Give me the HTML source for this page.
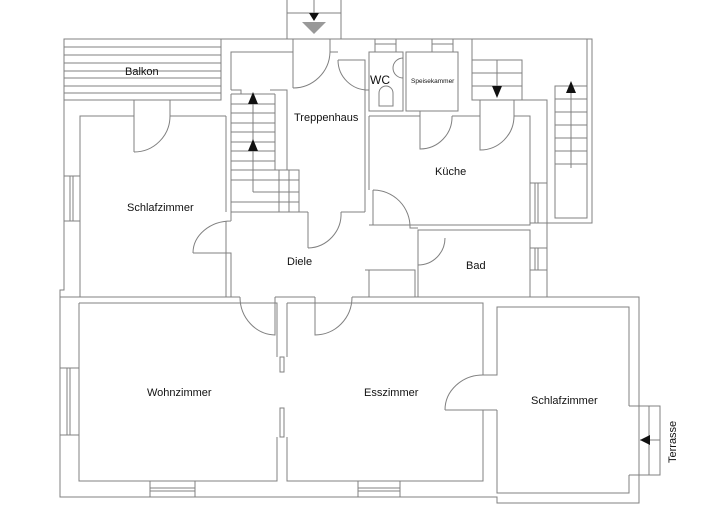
<!DOCTYPE html>
<html><head><meta charset="utf-8"><style>
html,body{margin:0;padding:0;background:#fff;}
svg{display:block;}
text{font-family:"Liberation Sans",sans-serif;font-size:11px;fill:#111;}
</style></head><body>
<svg width="720" height="530" viewBox="0 0 720 530" xmlns="http://www.w3.org/2000/svg">
<g fill="none" stroke="#808080" stroke-width="1">
<!-- entrance stairs -->
<path d="M287,0 V39 M341,0 V39 M287,13 H341 M314,0 V13"/>
<!-- Balkon -->
<rect x="64" y="39" width="157" height="61"/>
<path d="M64,47H221M64,55H221M64,63H221M64,71H221M64,78H221M64,86H221M64,93H221"/>
<!-- outer wall -->
<path d="M221,39 H592 V223 H547 V297 H639 V503 H497 V497 H60 V290 H64 V100"/>
<path d="M587,39 V218 H555 V86 H587"/>
<path d="M555,99H587M555,112H587M555,125H587M555,138H587M555,151H587M555,164H587"/>
<!-- top stairs right -->
<path d="M472,39 V100 H522 V60 H472 M472,73H522 M472,86H522 M497,60V93"/>
<path d="M522,100 H547 V297"/>
<!-- Schlafzimmer top-left -->
<path d="M134,116 H80 V297 H226 V221 M226,116 H170 M226,116 V212"/>
<path d="M134,100 V152 M134,152 A36,36 0 0 0 170,116 M170,100 V116"/>
<rect x="64" y="176" width="16" height="45"/><path d="M70,176V221M73,176V221"/>
<!-- Treppenhaus block -->
<path d="M231,90 V52 H293 M231,90 H241 V94 M231,94 V212 M231,212 H308 M270,90 H287 V170 H299 V212"/>
<path d="M275,94 V170 H279 V212 M289,170 V212 M279,170 H299 M231,94 H275"/>
<path d="M231,104H275M231,113H275M231,123H275M231,132H275M231,142H275M231,151H275M231,161H275M231,170H275M253,192H299M231,180H299M231,202H299"/>
<path d="M253,98 V192"/>
<path d="M293,39 V88 M293,88 A37,37 0 0 0 330,52 M330,39V52 M330,52 H338"/>
<path d="M338,60 H365 V212 M338,60 A30,30 0 0 0 369,90"/>
<path d="M365,212 H341 M308,212 V248 M308,248 A34,34 0 0 0 341,212"/>
<!-- WC / Speisekammer -->
<rect x="369" y="52" width="34" height="59"/>
<rect x="406" y="52" width="52" height="59"/>
<rect x="375" y="39" width="21" height="13"/><path d="M375,44H396"/>
<rect x="432" y="39" width="21" height="13"/><path d="M432,44H453"/>
<path d="M403,58 A9,9 0 1 0 403,78 Z"/>
<path d="M379,93 A7,7 0 0 1 393,93 V106 H379 Z"/>
<!-- Kueche -->
<path d="M369,116 H420 M452,116 H480 M514,116 H530 V225 H369 M369,116 V190"/>
<path d="M420,111 V149 A32,32 0 0 0 452,116"/>
<path d="M480,100 V150 A34,34 0 0 0 514,116 M514,100 V116"/>
<rect x="530" y="183" width="17" height="40"/><path d="M535,183V223M538,183V223"/>
<rect x="530" y="248" width="17" height="22"/><path d="M535,248V270M538,248V270"/>
<!-- Diele -->
<path d="M373,190 V225 M373,190 A37,37 0 0 1 410,228 H418"/>
<path d="M231,221 V212 M193,253 H231 V297 M193,253 A38,32 0 0 1 231,221"/>
<path d="M365,270 H369 V297 M369,270 H415 V297 M418,265 V230 H530 V297 H418 V265 M418,265 A27,27 0 0 0 445,238"/>
<!-- bottom area -->
<path d="M60,297 H240 M275,297 H315 M352,297 H547"/>
<path d="M240,297 A36,38 0 0 0 275,335 V297"/>
<path d="M315,297 V335 A37,38 0 0 0 352,297"/>
<path d="M79,303 V481 H277 V437 M277,357 V303 H240 M79,303 H240"/>
<path d="M287,303 V357 M287,437 V481 H483 V410 M483,375 V303 H287 M352,303 H287"/>
<rect x="280" y="357" width="4" height="15"/><rect x="280" y="408" width="4" height="29"/>
<rect x="60" y="368" width="19" height="67"/><path d="M67,368V435M70,368V435"/>
<rect x="150" y="481" width="45" height="16"/><path d="M150,488H195M150,491H195"/>
<rect x="358" y="481" width="42" height="16"/><path d="M358,488H400M358,491H400"/>
<path d="M445,410 H497 M445,410 A38,35 0 0 1 483,375 H497 V307 H629 V406 M629,475 V493 H497 V410"/>
<!-- Terrasse -->
<path d="M629,406 H660 V475 H629 M649,406 V475 M640,440 H660"/>
</g>
<g fill="#111">
<path d="M309,13 H319 L314,21 Z"/>
<path d="M302,22 H326 L314,34 Z" fill="#999"/>
<path d="M492,86 H502 L497,98 Z"/>
<path d="M566,93 H576 L571,81 Z"/>
<path d="M248,104 H258 L253,92 Z"/>
<path d="M248,151 H258 L253,139 Z"/>
<path d="M640,440 L650,435 V445 Z"/>
</g>
<path d="M571,93 V168" stroke="#808080" fill="none"/>
<text x="125" y="75">Balkon</text>
<text x="294" y="121">Treppenhaus</text>
<text x="370" y="84" style="font-size:12px">WC</text>
<text x="411" y="83" style="font-size:6.5px">Speisekammer</text>
<text x="435" y="175">Küche</text>
<text x="127" y="211">Schlafzimmer</text>
<text x="287" y="265">Diele</text>
<text x="466" y="269">Bad</text>
<text x="147" y="396">Wohnzimmer</text>
<text x="364" y="396">Esszimmer</text>
<text x="531" y="404">Schlafzimmer</text>
<text x="0" y="0" transform="translate(676,463) rotate(-90)">Terrasse</text>
</svg>
</body></html>
